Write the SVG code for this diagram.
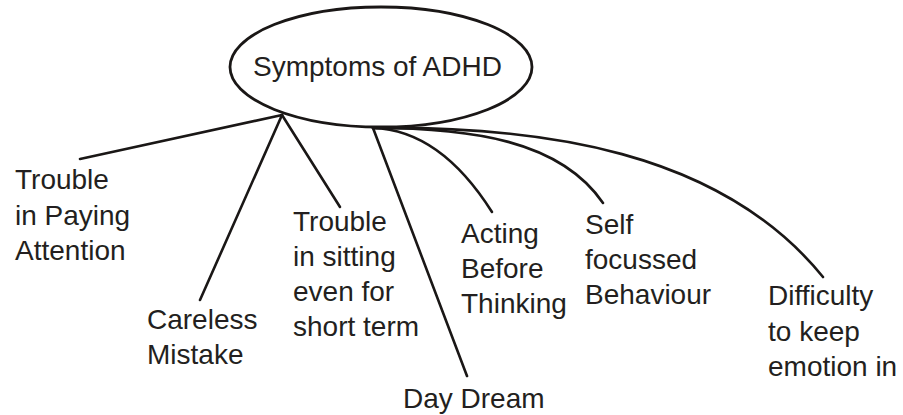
<svg xmlns="http://www.w3.org/2000/svg" width="903" height="415" viewBox="0 0 903 415">
<style>
  .t { font-family: "Liberation Sans", Arial, sans-serif; font-size: 28px; fill: #231f20; }
  .c { fill: none; stroke: #1a1716; stroke-width: 2.6; stroke-linecap: round; }
</style>
<rect width="903" height="415" fill="#ffffff"/>
<g id="connectors">
  <path class="c" d="M282,115 L80,159"/>
  <path class="c" d="M282,115 L200,300"/>
  <path class="c" d="M282,115 L340,207"/>
  <path class="c" d="M373,128 L467,376"/>
  <path class="c" d="M373,128 Q440,130 492,212"/>
  <path class="c" d="M373,128 C470,128 560,140 603,203"/>
  <path class="c" d="M373,128 C540,126 720,150 823,277"/>
</g>
<g id="root">
  <ellipse cx="381" cy="67" rx="151" ry="60" fill="none" stroke="#1a1716" stroke-width="2.8"/>
  <text class="t" x="253" y="76">Symptoms of ADHD</text>
</g>
<g id="paying-attention">
  <text class="t" x="15" y="189">Trouble</text>
  <text class="t" x="15" y="225">in Paying</text>
  <text class="t" x="15" y="260">Attention</text>
</g>
<g id="careless-mistake">
  <text class="t" x="147" y="329">Careless</text>
  <text class="t" x="147" y="364">Mistake</text>
</g>
<g id="trouble-sitting">
  <text class="t" x="293" y="231">Trouble</text>
  <text class="t" x="293" y="266">in sitting</text>
  <text class="t" x="293" y="301">even for</text>
  <text class="t" x="293" y="336">short term</text>
</g>
<g id="day-dream">
  <text class="t" x="403" y="408">Day Dream</text>
</g>
<g id="acting-before-thinking">
  <text class="t" x="461" y="243">Acting</text>
  <text class="t" x="461" y="278">Before</text>
  <text class="t" x="461" y="313">Thinking</text>
</g>
<g id="self-focussed">
  <text class="t" x="585" y="234">Self</text>
  <text class="t" x="585" y="269">focussed</text>
  <text class="t" x="585" y="304">Behaviour</text>
</g>
<g id="difficulty-emotion">
  <text class="t" x="768" y="305">Difficulty</text>
  <text class="t" x="768" y="341">to keep</text>
  <text class="t" x="768" y="376">emotion in</text>
</g>
</svg>
